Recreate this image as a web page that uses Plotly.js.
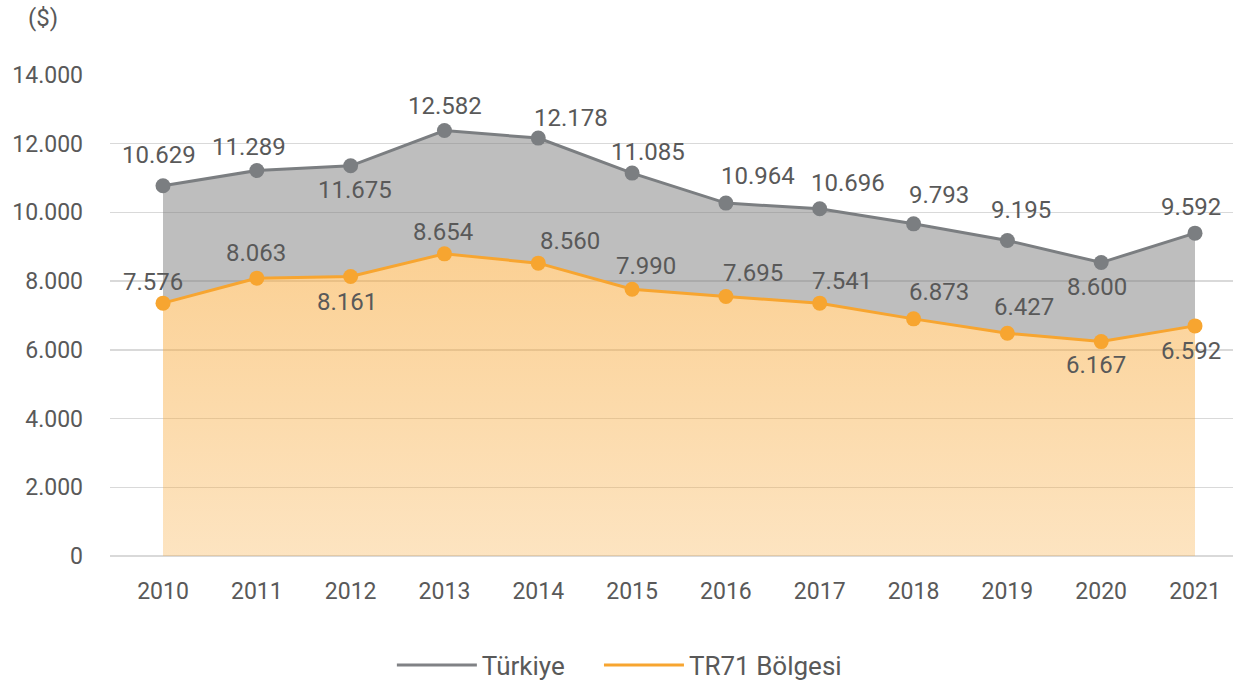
<!DOCTYPE html>
<html>
<head>
<meta charset="utf-8">
<script src="https://cdn.plot.ly/plotly-3.0.1.min.js"></script>
<style>html,body{margin:0;padding:0;background:#fff;}#chart{width:1253px;height:680px;}</style>
</head>
<body>
<div id="chart"></div>
<script>
// ---- data ----
const years = [2010, 2011, 2012, 2013, 2014, 2015, 2016, 2017, 2018, 2019, 2020, 2021];
const turkiye = [10775, 11220, 11357, 12385, 12164, 11144, 10271, 10105, 9668, 9182, 8541, 9397];
const tr71 = [7359, 8087, 8133, 8794, 8524, 7766, 7551, 7359, 6902, 6485, 6241, 6698];
const turkiyeLabels = ["10.629", "11.289", "11.675", "12.582", "12.178", "11.085", "10.964", "10.696", "9.793", "9.195", "8.600", "9.592"];
const tr71Labels = ["7.576", "8.063", "8.161", "8.654", "8.560", "7.990", "7.695", "7.541", "6.873", "6.427", "6.167", "6.592"];
const yTicks = [0, 2000, 4000, 6000, 8000, 10000, 12000, 14000];
const seriesNames = ["Türkiye", "TR71 Bölgesi"];
const unitLabel = "($)";

// ---- label placement (pixel offsets, style only) ----
const turkiyeDx = [-4, -8, 4, 1, 33, 16, 32, 28, 25, 14, -4, -4];
const turkiyeDy = [31, 24, -24, 24, 20, 21, 27, 26, 29, 31, -24, 26];
const tr71Dx = [-10, -1, -4, -1, 32, 14, 27, 22, 25, 17, -5, -4];
const tr71Dy = [21, 25, -25, 22, 22, 23, 24, 22, 27, 26, -23, -25];

const FONT = "Roboto, 'Noto Sans', sans-serif";
const TXT = "#595959";
const GRAY = "#7b7e81";
const ORANGE = "#f7a530";

const traces = [
  {
    x: years, y: tr71, name: seriesNames[1], type: "scatter", mode: "lines+markers",
    line: {color: ORANGE, width: 3},
    marker: {color: ORANGE, size: 15},
    fill: "tozeroy",
    fillgradient: {type: "vertical", start: 0, stop: 8800,
      colorscale: [[0, "rgba(248,170,60,0.32)"], [1, "rgba(248,170,60,0.55)"]]},
    showlegend: false, hoverinfo: "x+y"
  },
  {
    x: years, y: turkiye, name: seriesNames[0], type: "scatter", mode: "lines+markers",
    line: {color: GRAY, width: 3},
    marker: {color: GRAY, size: 15},
    fill: "tonexty", fillcolor: "rgba(125,125,125,0.5)",
    showlegend: false, hoverinfo: "x+y"
  },
  // legend entries (line only, as in the reference legend)
  {x: [null], y: [null], name: seriesNames[0], type: "scatter", mode: "lines",
    line: {color: "#808285", width: 3}, showlegend: true, legend: "legend"},
  {x: [null], y: [null], name: seriesNames[1], type: "scatter", mode: "lines",
    line: {color: ORANGE, width: 3}, showlegend: true, legend: "legend2"}
];

const annotations = [];
years.forEach((yr, i) => {
  annotations.push({x: yr, y: turkiye[i], text: turkiyeLabels[i], showarrow: false,
    xshift: turkiyeDx[i], yshift: turkiyeDy[i], font: {family: FONT, size: 24, color: TXT}});
  annotations.push({x: yr, y: tr71[i], text: tr71Labels[i], showarrow: false,
    xshift: tr71Dx[i], yshift: tr71Dy[i], font: {family: FONT, size: 24, color: TXT}});
});
annotations.push({xref: "paper", yref: "paper", x: -0.06, y: 1.118, xanchor: "center", yanchor: "middle",
  text: unitLabel, showarrow: false, font: {family: FONT, size: 24, color: TXT}});

const legendBase = {orientation: "h", xanchor: "left", yref: "container", y: 0.022, yanchor: "middle",
  font: {family: FONT, size: 26, color: TXT}, itemwidth: 80, bgcolor: "rgba(0,0,0,0)"};

const layout = {
  width: 1253, height: 680,
  margin: {l: 110, r: 20, t: 75, b: 124, autoexpand: false},
  paper_bgcolor: "#ffffff", plot_bgcolor: "#ffffff",
  separators: ",.",
  font: {family: FONT, size: 23, color: TXT},
  showlegend: true,
  legend: Object.assign({}, legendBase, {x: 0.251}),
  legend2: Object.assign({}, legendBase, {x: 0.4354}),
  xaxis: {
    range: [2009.435, 2021.405], tickmode: "array", tickvals: years, ticktext: years.map(String),
    showgrid: false, zeroline: false, showline: false, ticks: "", ticklabelstandoff: 19, automargin: false,
    tickfont: {family: FONT, size: 23, color: TXT}, fixedrange: true
  },
  yaxis: {
    range: [0, 14000], tickmode: "array", tickvals: yTicks, tickformat: ",d",
    showgrid: true, gridcolor: "#d9d9d9", gridwidth: 1.3,
    zeroline: true, zerolinecolor: "#d9d9d9", zerolinewidth: 1.5,
    showline: false, ticks: "", ticklabelstandoff: 26, automargin: false,
    tickfont: {family: FONT, size: 23, color: TXT}, fixedrange: true
  },
  annotations: annotations
};

Plotly.newPlot("chart", traces, layout, {displayModeBar: false, staticPlot: true});
</script>
</body>
</html>
